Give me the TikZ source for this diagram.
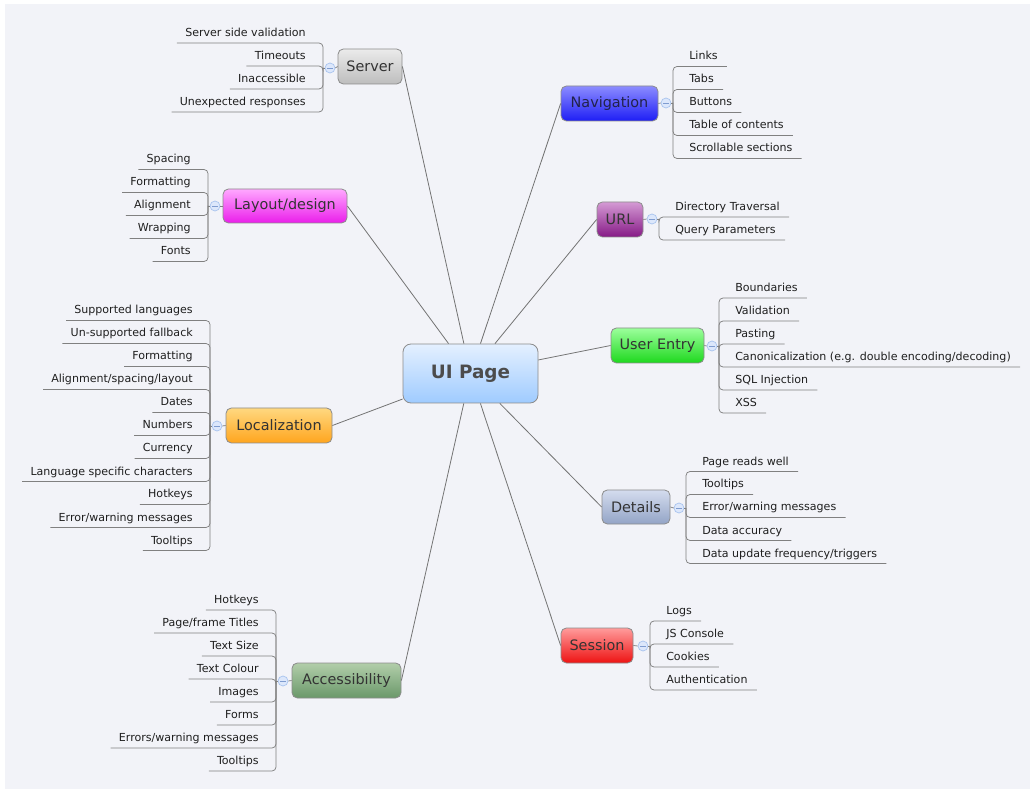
\documentclass[tikz,border=0pt]{standalone}
\usepackage{fontspec}
\setmainfont{DejaVu Sans}
\usetikzlibrary{calc}
\definecolor{bgc}{HTML}{F2F3F8}
\definecolor{knobfill}{HTML}{DCE7FB}
\definecolor{knobline}{HTML}{A6C2EE}
\definecolor{knobminus}{HTML}{7F9CD0}
\definecolor{txt}{HTML}{333333}
\definecolor{uiT}{HTML}{E4F0FF}\definecolor{uiB}{HTML}{9FCBFF}
\definecolor{svT}{HTML}{EBEBEB}\definecolor{svB}{HTML}{BDBDBD}
\definecolor{nvT}{HTML}{8C8CFF}\definecolor{nvB}{HTML}{1E1EF5}
\definecolor{urT}{HTML}{D49AD4}\definecolor{urB}{HTML}{861A86}
\definecolor{ueT}{HTML}{9CFF9C}\definecolor{ueB}{HTML}{1ED81E}
\definecolor{dtT}{HTML}{D4DCEE}\definecolor{dtB}{HTML}{93A4C6}
\definecolor{ssT}{HTML}{FF9C9C}\definecolor{ssB}{HTML}{EE1212}
\definecolor{lyT}{HTML}{FFA8FF}\definecolor{lyB}{HTML}{EA1EEA}
\definecolor{lcT}{HTML}{FFD880}\definecolor{lcB}{HTML}{FFA51E}
\definecolor{acT}{HTML}{B2CEAA}\definecolor{acB}{HTML}{6A986A}
\definecolor{navtxt}{HTML}{22224A}
\tikzset{
  mainbox/.style={draw=black!45, rounded corners=4pt, line width=0.6pt, text=txt,
    font=\fontsize{10.8}{12}\selectfont, inner sep=0pt},
  boxsize/.style 2 args={minimum width=#1*0.75pt, minimum height=#2*0.75pt},
  grad/.style 2 args={top color=#1, bottom color=#2},
  leaf/.style={inner sep=0pt, font=\fontsize{8.3}{10}\selectfont, text=black!88},
  twig/.style={draw=black!50, line width=0.55pt, rounded corners=3pt},
  spoke/.style={draw=black!55, line width=0.6pt},
  knob/.style={circle, draw=knobline, fill=knobfill, minimum size=7.5pt, inner sep=0pt, line width=0.5pt,
    path picture={\draw[knobminus, line width=0.5pt]
      ([xshift=-2pt]path picture bounding box.center) -- ([xshift=2pt]path picture bounding box.center);}}
}
% right-hand leaves: #1 prefix, #2 parent node, #3 bracket x, #4 knob y, #5 count, #6 list
\newcommand{\leavesR}[6]{%
  \node[knob] (#1-k) at (#3-7,#4) {};
  \coordinate (#1-j) at (#3,#4);
  \draw[twig] (#2.east) -- (#1-k.west);
  \draw[twig] (#1-k.east) -- (#1-j);
  \foreach \t [count=\i] in {#6} {
    \pgfmathsetmacro\uy{#4+23*(\i-1-(#5-1)/2)+9.5}
    \node[leaf, anchor=base west] (#1-\i) at (#3+16,\uy-6.5) {\t};
    \coordinate (#1-u\i) at ($(#1-\i.base east)+(9,6.5)$);
    \draw[twig] (#1-j) |- (#1-u\i);
  }
}
% left-hand leaves
\newcommand{\leavesL}[6]{%
  \node[knob] (#1-k) at (#3+7,#4) {};
  \coordinate (#1-j) at (#3,#4);
  \draw[twig] (#2.west) -- (#1-k.east);
  \draw[twig] (#1-k.west) -- (#1-j);
  \foreach \t [count=\i] in {#6} {
    \pgfmathsetmacro\uy{#4+23*(\i-1-(#5-1)/2)+9.5}
    \node[leaf, anchor=base east] (#1-\i) at (#3-17,\uy-6.5) {\t};
    \coordinate (#1-u\i) at ($(#1-\i.base west)+(-8,6.5)$);
    \draw[twig] (#1-j) |- (#1-u\i);
  }
}
\begin{document}
\begin{tikzpicture}[x=0.75pt,y=-0.75pt]
\useasboundingbox (0,0) rectangle (1032,791);
\fill[white] (0,0) rectangle (1032,791);
\fill[bgc] (5,4) rectangle (1030,789);

% central node
\node[mainbox, boxsize={135}{59}, grad={uiT}{uiB}, rounded corners=6pt,
  font=\fontsize{13.8}{16}\selectfont\bfseries, text=black!70] (ui) at (470.5,373.5) {UI Page};

% branch nodes
\node[mainbox, boxsize={64}{35}, grad={svT}{svB}] (server) at (370,66.5) {Server};
\node[mainbox, boxsize={97}{35}, grad={nvT}{nvB}, text=navtxt] (nav) at (609.5,103.5) {Navigation};
\node[mainbox, boxsize={46}{35}, grad={urT}{urB}] (url) at (620,219.5) {URL};
\node[mainbox, boxsize={93}{35}, grad={ueT}{ueB}] (user) at (657.5,345.5) {User Entry};
\node[mainbox, boxsize={68}{34}, grad={dtT}{dtB}] (det) at (636,507) {Details};
\node[mainbox, boxsize={72}{35}, grad={ssT}{ssB}] (ses) at (597,645.5) {Session};
\node[mainbox, boxsize={124}{34}, grad={lyT}{lyB}] (lay) at (285,206) {Layout/design};
\node[mainbox, boxsize={106}{35}, grad={lcT}{lcB}] (loc) at (279,425.5) {Localization};
\node[mainbox, boxsize={109}{35}, grad={acT}{acB}] (acc) at (346.5,680.5) {Accessibility};

% spokes
\draw[spoke] (ui) -- (server.east);
\draw[spoke] (ui) -- (lay.east);
\draw[spoke] (ui) -- (loc.east);
\draw[spoke] (ui) -- (acc.east);
\draw[spoke] (ui) -- (nav.west);
\draw[spoke] (ui) -- (url.west);
\draw[spoke] (ui) -- (user.west);
\draw[spoke] (ui) -- (det.west);
\draw[spoke] (ui) -- (ses.west);

% leaves
\leavesL{sv}{server}{323}{68}{4}{Server side validation,Timeouts,Inaccessible,Unexpected responses}
\leavesL{ly}{lay}{208}{206}{5}{Spacing,Formatting,Alignment,Wrapping,Fonts}
\leavesL{lc}{loc}{210}{426}{11}{Supported languages,Un-supported fallback,Formatting,Alignment/spacing/layout,Dates,Numbers,Currency,Language specific characters,Hotkeys,Error/warning messages,Tooltips}
\leavesL{ac}{acc}{276}{681}{8}{Hotkeys,Page/frame Titles,Text Size,Text Colour,Images,Forms,Errors/warning messages,Tooltips}
\leavesR{nv}{nav}{673}{103}{5}{Links,Tabs,Buttons,Table of contents,Scrollable sections}
\leavesR{ur}{url}{659}{219}{2}{Directory Traversal,Query Parameters}
\leavesR{ue}{user}{719}{346}{6}{Boundaries,Validation,Pasting,{Canonicalization (e.g. double encoding/decoding)},SQL Injection,XSS}
\leavesR{dt}{det}{686}{508}{5}{Page reads well,Tooltips,Error/warning messages,Data accuracy,Data update frequency/triggers}
\leavesR{ss}{ses}{650}{646}{4}{Logs,JS Console,Cookies,Authentication}
\end{tikzpicture}
\end{document}
